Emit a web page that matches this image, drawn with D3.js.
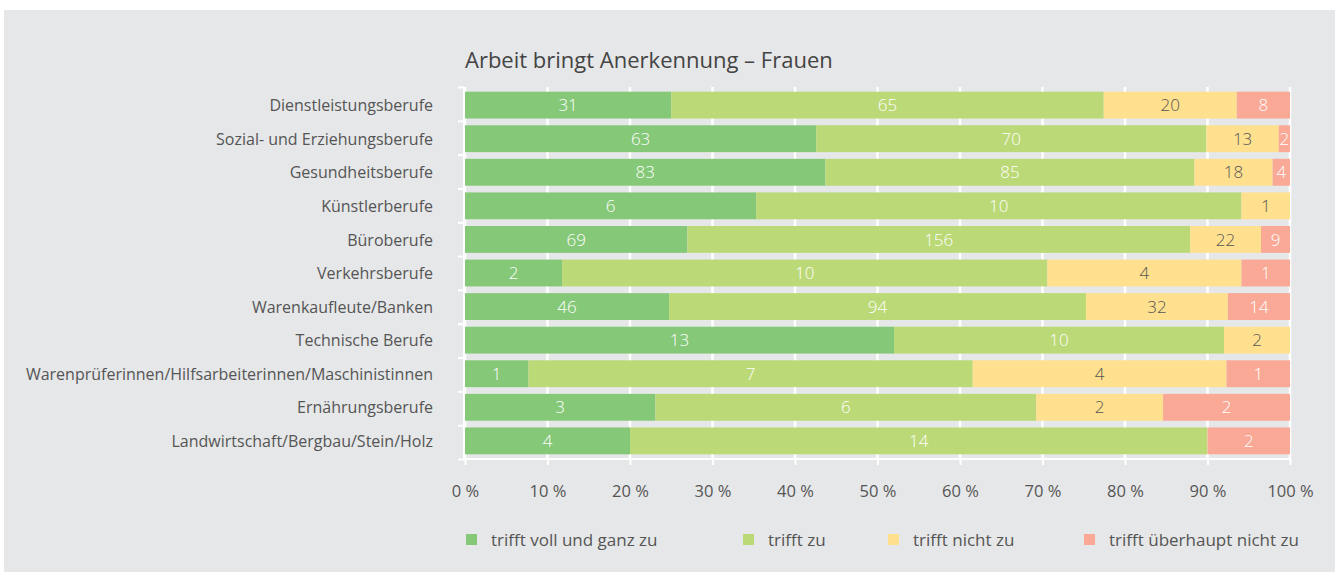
<!DOCTYPE html>
<html><head><meta charset="utf-8">
<script src="https://cdn.jsdelivr.net/npm/d3@7"></script>
<style>
html,body{margin:0;padding:0;background:#fff;}
svg{display:block;}
</style></head>
<body>
<svg id="chart" width="1341" height="579"></svg>
<script>
const title = "Arbeit bringt Anerkennung – Frauen";
const categories = ["Dienstleistungsberufe","Sozial- und Erziehungsberufe","Gesundheitsberufe","Künstlerberufe","Büroberufe","Verkehrsberufe","Warenkaufleute/Banken","Technische Berufe","Warenprüferinnen/Hilfsarbeiterinnen/Maschinistinnen","Ernährungsberufe","Landwirtschaft/Bergbau/Stein/Holz"];
const seriesNames = ["trifft voll und ganz zu","trifft zu","trifft nicht zu","trifft überhaupt nicht zu"];
const vollUndGanz = [31,63,83,6,69,2,46,13,1,3,4];
const triffZu = [65,70,85,10,156,10,94,10,7,6,14];
const nichtZu = [20,13,18,1,22,4,32,2,4,2,0];
const ueberhauptNicht = [8,2,4,0,9,1,14,0,1,2,2];
const tickValues = [0,10,20,30,40,50,60,70,80,90,100];
const colors = ["#85c878","#bbd976","#fee08e","#f9a996"];
const labelColors = ["#ffffff","#ffffff","#555555","#ffffff"];

const font = "'Open Sans', sans-serif";
const svg = d3.select("#chart");
svg.append("rect").attr("x",4).attr("y",10).attr("width",1331).attr("height",562).attr("fill","#e6e7e8");

const x = d3.scaleLinear().domain([0,100]).range([465,1290]);
const y = d3.scaleBand().domain(categories).range([87,459]).paddingInner(0.2).paddingOuter(0.14);

// gridlines
svg.append("g").selectAll("line").data(tickValues).join("line")
  .attr("x1",d=>x(d)).attr("x2",d=>x(d)).attr("y1",87).attr("y2",459)
  .attr("stroke","#fff").attr("stroke-width",2.5);

const series = [vollUndGanz,triffZu,nichtZu,ueberhauptNicht];
const rows = categories.map((c,i)=>{
  const vals = series.map(s=>s[i]);
  const total = d3.sum(vals);
  let cum = 0;
  return vals.map((v,k)=>{const seg={cat:c,k,v,x0:cum/total*100,x1:(cum+v)/total*100}; cum+=v; return seg;});
}).flat().filter(d=>d.v>0);

svg.append("g").selectAll("rect").data(rows).join("rect")
  .attr("x",d=>x(d.x0)).attr("width",d=>x(d.x1)-x(d.x0))
  .attr("y",d=>y(d.cat)).attr("height",y.bandwidth())
  .attr("fill",d=>colors[d.k]);

svg.append("g").selectAll("text").data(rows).join("text")
  .attr("x",d=>(x(d.x0)+x(d.x1))/2).attr("y",d=>y(d.cat)+y.bandwidth()/2)
  .attr("dy","0.36em").attr("text-anchor","middle")
  .attr("font-family",font).attr("font-size",17).attr("font-weight",300)
  .attr("fill",d=>labelColors[d.k]).text(d=>d.v);

// left axis
const yAxis = d3.axisLeft(d3.scaleLinear().domain([0,11]).range([87,459])).ticks(11).tickSize(6).tickFormat("");
const ga = svg.append("g").attr("transform","translate(464,0)").call(yAxis);
ga.selectAll("line,path").attr("stroke","#fff").attr("stroke-width",2);
ga.select("path").attr("d","M0,87V459");

// bottom axis
const xAxis = d3.axisBottom(x).tickValues(tickValues).tickSize(6).tickFormat(d=>d+" %");
const gx = svg.append("g").attr("transform","translate(0,459)").call(xAxis);
gx.selectAll("line,path").attr("stroke","#fff").attr("stroke-width",2);
gx.select("path").attr("d","M464,0H1290");
gx.selectAll("text").attr("font-family",font).attr("font-weight",400)
  .attr("fill","#555").attr("y",26).attr("dy","0.71em").style("font-size","16.5px");

// category labels
svg.append("g").selectAll("text").data(categories).join("text")
  .attr("x",433).attr("y",d=>y(d)+y.bandwidth()/2).attr("dy","0.38em")
  .attr("text-anchor","end").attr("font-family",font).attr("font-size",16).attr("fill","#555").text(d=>d);

// title
svg.append("text").attr("x",465).attr("y",68).attr("font-family",font).attr("font-size",22)
  .attr("font-weight",500).attr("fill","#444").text(title);

// legend
const legX = [466,743,888,1084];
const lg = svg.append("g").selectAll("g").data(seriesNames).join("g")
  .attr("transform",(d,i)=>`translate(${legX[i]},534)`);
lg.append("rect").attr("width",11).attr("height",11).attr("fill",(d,i)=>colors[i]);
lg.append("text").attr("x",25).attr("y",6).attr("dy","0.38em").attr("font-family",font)
  .attr("font-size",17).attr("fill","#555").text(d=>d);
</script>
</body></html>
